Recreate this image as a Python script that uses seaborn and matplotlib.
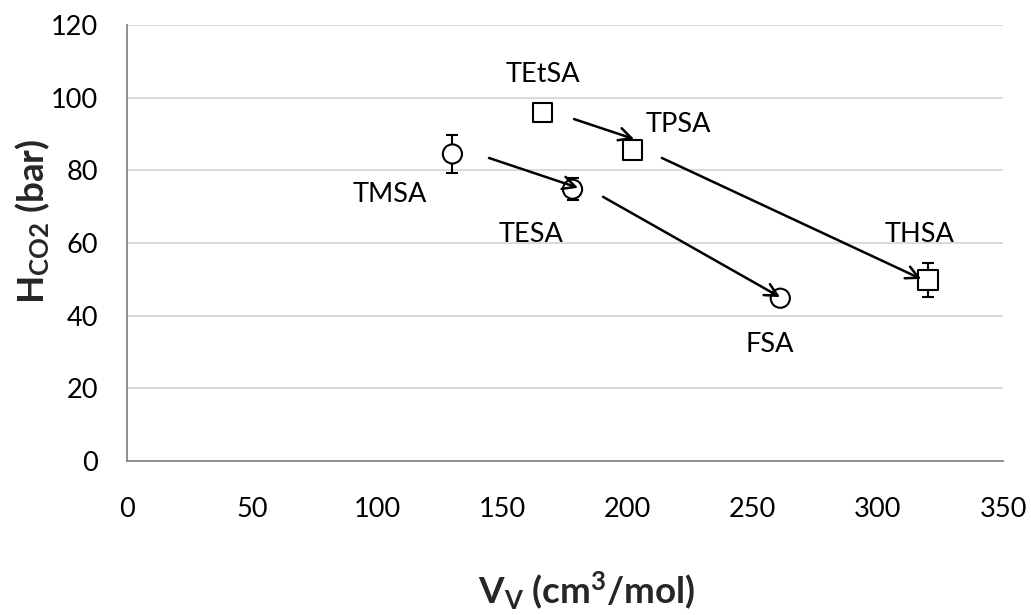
import matplotlib
matplotlib.use("Agg")
import matplotlib.pyplot as plt
import seaborn as sns
import pandas as pd

# Sulfonic acid species: molar volume vs. Henry constant of CO2
names = ["TMSA", "TESA", "FSA", "TEtSA", "TPSA", "THSA"]
vv = [130, 178, 261, 166, 202, 320]
hco2 = [84.5, 74.8, 44.8, 96.0, 85.6, 49.8]
err = [5.3, 3.0, 0.8, 0.0, 0.0, 4.8]
family = ["circle", "circle", "circle", "square", "square", "square"]

# Trend arrows (start point -> end point)
arrow_from_x = [144.6, 178.6, 213.7, 190.2]
arrow_from_y = [83.4, 94.1, 83.4, 72.7]
arrow_to_x = [180.2, 202.6, 317.3, 260.9]
arrow_to_y = [75.2, 88.6, 50.1, 45.1]

# Label anchors (centre x, baseline y)
label_x = [105.1, 161.4, 256.7, 166.0, 220.1, 316.8]
label_y = [71.3, 60.3, 30.0, 104.3, 90.6, 60.3]

x_ticks = [0, 50, 100, 150, 200, 250, 300, 350]
y_ticks = [0, 20, 40, 60, 80, 100, 120]

df = pd.DataFrame({"name": names, "vv": vv, "hco2": hco2, "err": err, "family": family})

sns.set_theme(style="white")
plt.rcParams["font.family"] = ["Lato", "DejaVu Sans"]
plt.rcParams["mathtext.default"] = "regular"

fig = plt.figure(figsize=(10.31, 6.15), dpi=100)
ax = fig.add_axes([0.1232, 0.2504, 0.8497, 0.7090])

ax.errorbar(df["vv"], df["hco2"], yerr=df["err"], fmt="none", ecolor="black",
            elinewidth=1.5, capsize=4.5, capthick=1.5, zorder=2)
sns.scatterplot(data=df, x="vv", y="hco2", style="family",
                markers={"circle": "o", "square": "s"}, s=190,
                facecolor="white", edgecolor="black", linewidth=1.5,
                legend=False, ax=ax, zorder=3)

for x0, y0, x1, y1 in zip(arrow_from_x, arrow_from_y, arrow_to_x, arrow_to_y):
    ax.annotate("", xy=(x1, y1), xytext=(x0, y0),
                arrowprops=dict(arrowstyle="->,head_length=0.75,head_width=0.38",
                                color="black", lw=1.8, shrinkA=0, shrinkB=0),
                zorder=4)

for n, lx, ly in zip(names, label_x, label_y):
    ax.text(lx, ly, n, ha="center", va="baseline", fontsize=19.5, color="black")

ax.set_xlim(0, 350)
ax.set_ylim(0, 120)
ax.set_xticks(x_ticks)
ax.set_yticks(y_ticks)
ax.yaxis.grid(True, color="#d9d9d9", lw=1.4)
ax.xaxis.grid(False)
for side in ["top", "right"]:
    ax.spines[side].set_visible(False)
for side in ["left", "bottom"]:
    ax.spines[side].set_color("#868686")
    ax.spines[side].set_linewidth(1.3)
ax.tick_params(axis="both", which="major", direction="out", length=7, width=1.3,
               color="#868686", labelsize=19.5, labelcolor="black")
ax.tick_params(axis="x", pad=19)
ax.tick_params(axis="y", pad=14)

ax.set_xlabel("V$_V$ (cm$^3$/mol)", fontsize=26.5, fontweight="bold", va="baseline")
ax.xaxis.set_label_coords(0.5245, -0.326)
ax.set_ylabel("H$_{CO2}$ (bar)", fontsize=26.5, fontweight="bold", va="center")
ax.yaxis.set_label_coords(-0.108, 0.55)

fig.savefig("out.png", dpi=100)
